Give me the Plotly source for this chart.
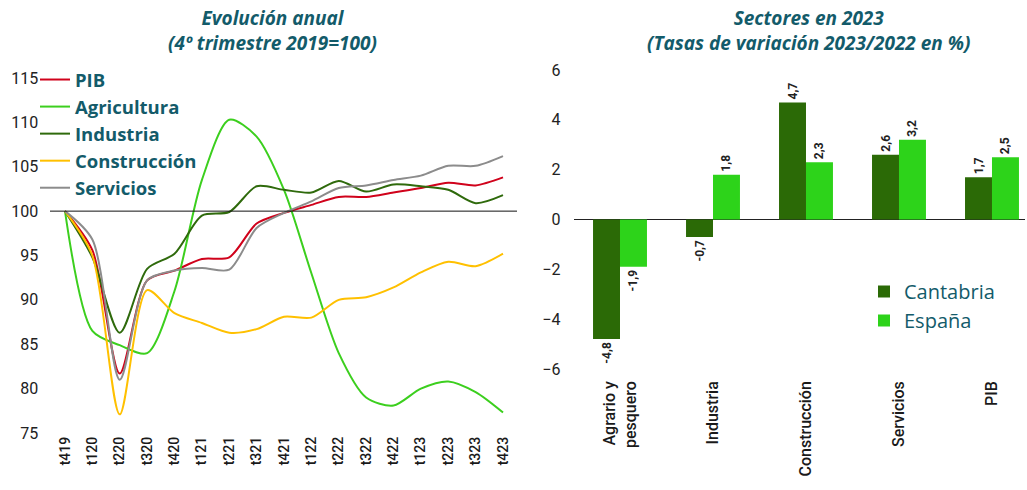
import plotly.graph_objects as go

# ---------------- data ----------------
quarters = ["t419", "t120", "t220", "t320", "t420", "t121", "t221", "t321", "t421",
            "t122", "t222", "t322", "t422", "t123", "t223", "t323", "t423"]
pib = [100, 95.6, 81.7, 92.2, 93.3, 94.6, 94.8, 98.6, 99.8, 100.7, 101.6, 101.6,
       102.1, 102.6, 103.2, 102.9, 103.8]
agricultura = [100, 86.5, 84.9, 84.0, 91.0, 103.5, 110.3, 108.4, 102.4, 93.0, 84.0,
               79.0, 78.1, 80.0, 80.8, 79.6, 77.3]
industria = [100, 94.8, 86.3, 93.5, 95.2, 99.5, 99.9, 102.8, 102.4, 102.1, 103.4,
             102.2, 103.0, 102.8, 102.4, 100.9, 101.8]
construccion = [100, 95.0, 77.1, 91.1, 88.5, 87.4, 86.3, 86.7, 88.1, 88.0, 90.0,
                90.3, 91.4, 93.1, 94.3, 93.8, 95.2]
servicios = [100, 96.8, 81.0, 92.2, 93.3, 93.6, 93.4, 98.1, 99.8, 101.1, 102.6,
             102.9, 103.5, 104.0, 105.1, 105.1, 106.2]

sectores = ["Agrario y<br>pesquero", "Industria", "Construcción", "Servicios", "PIB"]
cantabria = [-4.8, -0.7, 4.7, 2.6, 1.7]
espana = [-1.9, 1.8, 2.3, 3.2, 2.5]

left_ticks = [75, 80, 85, 90, 95, 100, 105, 110, 115]
right_ticks = [-6, -4, -2, 0, 2, 4, 6]

left_title = "Evolución anual<br>(4º trimestre 2019=100)"
right_title = "Sectores en 2023<br>(Tasas de variación 2023/2022 en %)"

# ---------------- style ----------------
W, H = 1027, 490
TEAL = "#135b6a"
FONT = "Roboto"
FONT2 = "Open Sans"

def px(x):
    return x / W

def py(y):
    return 1 - y / H

fig = go.Figure()

line_series = [
    ("PIB", pib, "#d0021b"),
    ("Agricultura", agricultura, "#3ccf1e"),
    ("Industria", industria, "#2f6a0c"),
    ("Construcción", construccion, "#ffc000"),
    ("Servicios", servicios, "#8c8c8c"),
]
for name, vals, col in line_series:
    fig.add_trace(go.Scatter(
        x=quarters, y=vals, name=name, mode="lines",
        line=dict(color=col, width=2, shape="spline", smoothing=0.8),
        xaxis="x", yaxis="y", legend="legend",
    ))

def fmt(v):
    return f"{v:.1f}".replace(".", ",")

for name, vals, col in [("Cantabria", cantabria, "#2b6a06"), ("España", espana, "#2dd31a")]:
    fig.add_trace(go.Bar(
        x=sectores, y=vals, name=name, marker=dict(color=col, line=dict(width=0)),
        text=[fmt(v) for v in vals], textposition="outside", textangle=-90,
        textfont=dict(family=FONT, size=12, color="#222222", weight="bold"),
        cliponaxis=False, xaxis="x2", yaxis="y2", legend="legend2",
    ))

annotations = []
for txt, cx in [(left_title, 272), (right_title, 808)]:
    annotations.append(dict(
        text=f"<i>{txt}</i>", x=px(cx), y=py(31), xref="paper", yref="paper",
        xanchor="center", yanchor="middle", showarrow=False,
        font=dict(family=FONT2, size=19, color=TEAL, weight="bold")))

fig.update_layout(
    width=W, height=H, template="none",
    paper_bgcolor="white", plot_bgcolor="white",
    margin=dict(l=0, r=0, t=0, b=0),
    font=dict(family=FONT, color="#222222"),
    showlegend=True,
    barmode="group", bargap=0.42, bargroupgap=0,
    xaxis=dict(domain=[px(51.3), px(516.7)], range=[-0.5, 16.5], type="category",
               showgrid=False, zeroline=False, showline=False, ticks="",
               tickangle=-90, tickfont=dict(size=14, color="#1a1a1a", weight=500),
               automargin=False, anchor="y"),
    yaxis=dict(domain=[py(433), py(78)], range=[75, 115], tickvals=left_ticks,
               showgrid=False, zeroline=False, showline=False, ticks="",
               tickfont=dict(size=16, color="#222222"), automargin=False, anchor="x",
               ticklabelstandoff=12),
    xaxis2=dict(domain=[px(573.5), px(1025)], range=[-0.5, 4.355], type="category",
                showgrid=False, zeroline=False, showline=False, ticks="",
                tickangle=-90, tickfont=dict(size=16, color="#1a1a1a", weight=500),
                automargin=False, anchor="y2", ticklabelstandoff=8),
    yaxis2=dict(domain=[py(369), py(70)], range=[-6, 6], tickvals=right_ticks,
                showgrid=False, zeroline=True, zerolinecolor="#222222", zerolinewidth=1,
                showline=False, ticks="", tickfont=dict(size=16, color="#222222"),
                automargin=False, anchor="x2", ticklabelstandoff=12),
    legend=dict(x=px(35), y=py(61), xanchor="left", yanchor="top",
                bgcolor="rgba(0,0,0,0)", itemwidth=30, tracegroupgap=0,
                font=dict(family=FONT2, size=18.5, color=TEAL, weight="bold")),
    legend2=dict(x=px(864), y=py(272), xanchor="left", yanchor="top",
                 bgcolor="rgba(0,0,0,0)", itemwidth=30,
                 font=dict(family=FONT2, size=20, color=TEAL, weight=500)),
    shapes=[dict(type="line", xref="paper", yref="y", x0=px(50), x1=px(517),
                 y0=100, y1=100, line=dict(color="#111111", width=1))],
    annotations=annotations,
)

fig.write_html("out.html", config={"displayModeBar": False},
               post_script="document.body.style.margin='0';")
